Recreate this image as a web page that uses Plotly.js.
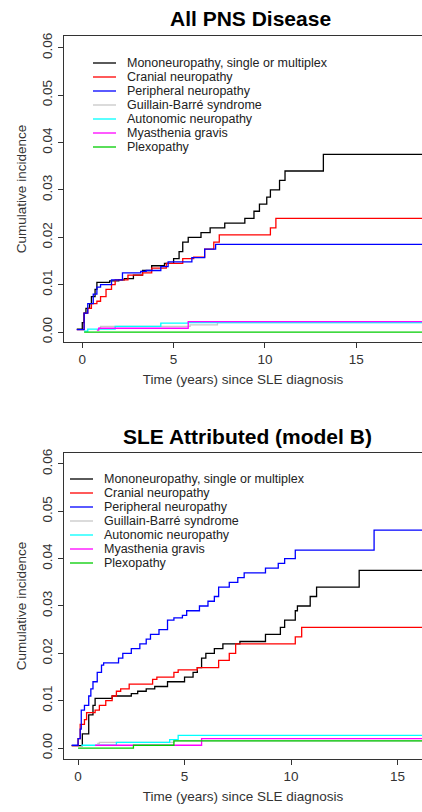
<!DOCTYPE html>
<html><head><meta charset="utf-8">
<script src="https://cdn.plot.ly/plotly-3.0.1.min.js"></script>
<style>html,body{margin:0;padding:0;background:#fff}#c{width:422px;height:812px}</style>
</head><body><div id="c"></div>
<script>
const seriesNames = ["Mononeuropathy, single or multiplex","Cranial neuropathy","Peripheral neuropathy","Guillain-Barré syndrome","Autonomic neuropathy","Myasthenia gravis","Plexopathy"];
const seriesColors = ["#000000","#ff0000","#0000ff","#c8c8c8","#00ffff","#ff00ff","#00cc00"];

// Panel A: All PNS Disease
const aMonoX = [-0.3,0,0.1,0.2,0.4,0.5,0.7,0.8,1.5,2,2.3,2.8,3.3,3.8,4.5,5,5.3,5.5,5.8,6.5,7,7.8,8.9,9.4,9.7,10.1,10.3,10.8,11.1,13.2,18.6];
const aMonoY = [0.0006,0.002,0.004,0.005,0.006,0.0075,0.009,0.0105,0.0108,0.011,0.0113,0.012,0.013,0.014,0.0145,0.0155,0.017,0.019,0.020,0.021,0.022,0.023,0.024,0.0255,0.027,0.0285,0.030,0.032,0.034,0.0375,0.0375];
const aCranX = [-0.3,0.1,0.3,0.5,0.8,1.0,1.3,1.6,1.8,2.5,3.3,3.8,4.6,5.5,6.1,6.7,7.2,7.5,10.3,10.6,18.6];
const aCranY = [0.0005,0.004,0.005,0.006,0.0065,0.0075,0.009,0.010,0.011,0.012,0.0125,0.0135,0.0145,0.0155,0.0158,0.0175,0.019,0.0205,0.022,0.024,0.024];
const aPeriX = [-0.3,0.1,0.3,0.6,0.8,1.0,1.6,2.2,3.2,3.5,4.3,4.7,6.0,6.7,7.3,18.6];
const aPeriY = [0.0005,0.004,0.006,0.008,0.0095,0.010,0.011,0.0125,0.0128,0.013,0.0138,0.0148,0.0157,0.0175,0.0185,0.0185];
const aGbsX = [0.9,1.0,5.9,7.4,18.6];
const aGbsY = [0.0008,0.0012,0.0015,0.002,0.002];
const aAutoX = [0.1,0.3,1.8,4.3,5.8,18.6];
const aAutoY = [0.0002,0.0006,0.0012,0.0019,0.002,0.002];
const aMyasX = [0.8,0.9,5.8,18.6];
const aMyasY = [0.0004,0.0008,0.0022,0.0022];
const aPlexX = [0.1,18.6];
const aPlexY = [0,0];

// Panel B: SLE Attributed (model B)
const bMonoX = [-0.3,0.2,0.5,0.7,0.8,1.6,2.5,2.8,3.2,3.6,4.2,5,5.4,5.6,5.8,6,6.4,6.8,7.6,8.8,9.5,9.7,10.2,10.3,10.9,11.2,13.2,16.2];
const bMonoY = [0.0005,0.003,0.007,0.009,0.0105,0.011,0.0115,0.012,0.0125,0.013,0.014,0.015,0.016,0.017,0.019,0.020,0.021,0.022,0.0225,0.024,0.0255,0.027,0.029,0.030,0.032,0.034,0.0375,0.0375];
const bCranX = [-0.3,0,0.1,0.3,0.4,0.8,1,1.3,1.6,1.8,2,2.4,3.5,3.7,4.5,4.7,5.6,6.6,7.1,7.4,10.2,10.5,16.2];
const bCranY = [0.0005,0.002,0.005,0.006,0.0075,0.008,0.009,0.010,0.011,0.012,0.0125,0.0135,0.0145,0.015,0.016,0.0165,0.017,0.0185,0.020,0.022,0.0235,0.0255,0.0255];
const bPeriX = [-0.3,0,0.1,0.15,0.3,0.5,0.6,0.7,0.9,1.1,1.2,1.9,2.1,2.5,2.9,3.2,3.4,3.8,4.2,4.5,4.9,5.1,5.7,6.1,6.4,6.6,7.1,7.5,7.8,8.8,9.4,9.7,10.2,13.9,16.2];
const bPeriY = [0.0006,0.002,0.004,0.008,0.009,0.011,0.0125,0.014,0.016,0.0175,0.018,0.019,0.020,0.021,0.022,0.023,0.024,0.025,0.027,0.0275,0.028,0.029,0.030,0.031,0.032,0.034,0.035,0.036,0.037,0.038,0.039,0.040,0.0418,0.046,0.046];
const bGbsX = [0.9,1.0,4.5,7.4,16.2];
const bGbsY = [0.001,0.0012,0.0015,0.0015,0.0015];
const bAutoX = [0.15,1.8,4.3,4.7,16.2];
const bAutoY = [0.0006,0.0012,0.0018,0.0027,0.0027];
const bMyasX = [0.8,5.8,16.2];
const bMyasY = [0.0006,0.002,0.002];
const bPlexX = [0,2.6,4.5,16.2];
const bPlexY = [0,0.0006,0.0015,0.0015];

const panelA = [[aMonoX,aMonoY],[aCranX,aCranY],[aPeriX,aPeriY],[aGbsX,aGbsY],[aAutoX,aAutoY],[aMyasX,aMyasY],[aPlexX,aPlexY]];
const panelB = [[bMonoX,bMonoY],[bCranX,bCranY],[bPeriX,bPeriY],[bGbsX,bGbsY],[bAutoX,bAutoY],[bMyasX,bMyasY],[bPlexX,bPlexY]];

const traces = [];
function addPanel(p, xa, ya){
  for(let i=0;i<7;i++){
    traces.push({x:p[i][0], y:p[i][1], type:'scatter', mode:'lines', line:{shape:'hv', color:seriesColors[i], width:1.3},
      name:seriesNames[i], xaxis:xa, yaxis:ya, showlegend:false});
  }
}
addPanel(panelA,'x','y');
addPanel(panelB,'x2','y2');

const FF = 'Liberation Sans, Arial, sans-serif';
const fnt = {family:FF, size:13.5, color:'#333'};
function xax(range, anchor){ return {domain:[0.1517,1], range:range, anchor:anchor, showgrid:false, zeroline:false,
  showline:true, mirror:true, linecolor:'#333', linewidth:1.2, ticks:'outside', ticklen:5, tickcolor:'#333',
  tickvals:[0,5,10,15], ticktext:['0','5','10','15'], tickfont:fnt,
  title:{text:'Time (years) since SLE diagnosis', font:fnt, standoff:8}}; }
function yax(dom, range, anchor){ return {domain:dom, range:range, anchor:anchor, showgrid:false, zeroline:false,
  showline:true, mirror:true, linecolor:'#333', linewidth:1.2, ticks:'outside', ticklen:5, tickcolor:'#333',
  tickvals:[0,0.01,0.02,0.03,0.04,0.05,0.06], ticktext:['0.00','0.01','0.02','0.03','0.04','0.05','0.06'],
  tickangle:-90, tickfont:fnt, title:{text:'Cumulative incidence', font:fnt, standoff:10}}; }

const shapes = [], annotations = [];
function legend(x0, x1, xt, ytop){
  for(let i=0;i<7;i++){
    const yp = 1-(ytop+14*i)/812;
    shapes.push({type:'line', xref:'paper', yref:'paper', x0:x0/422, x1:x1/422, y0:yp, y1:yp, line:{color:seriesColors[i], width:1.3}});
    annotations.push({text:seriesNames[i], xref:'paper', yref:'paper', x:xt/422, y:yp, xanchor:'left', yanchor:'middle', showarrow:false, font:{family:FF, size:12.5, color:'#222'}});
  }
}
legend(93,116,125,63);
legend(70,93,102,479);
annotations.push({text:'<b>All PNS Disease</b>', x:250/422, y:1-18/812, xref:'paper', yref:'paper', xanchor:'center', yanchor:'middle', showarrow:false, font:{family:FF, size:21, color:'#000'}});
annotations.push({text:'<b>SLE Attributed (model B)</b>', x:248/422, y:1-436/812, xref:'paper', yref:'paper', xanchor:'center', yanchor:'middle', showarrow:false, font:{family:FF, size:21, color:'#000'}});

const layout = {
  width:422, height:812, margin:{l:0,r:0,t:0,b:0}, paper_bgcolor:'#fff', plot_bgcolor:'#fff', showlegend:false,
  xaxis: xax([-1.0,18.6],'y'),
  yaxis: yax([0.5788,0.9557],[-0.0021,0.0625],'x'),
  xaxis2: xax([-0.66,16.15],'y2'),
  yaxis2: yax([0.0653,0.4421],[-0.0023,0.0623],'x2'),
  shapes: shapes, annotations: annotations
};
Plotly.newPlot('c', traces, layout, {displayModeBar:false, staticPlot:true});
</script></body></html>
